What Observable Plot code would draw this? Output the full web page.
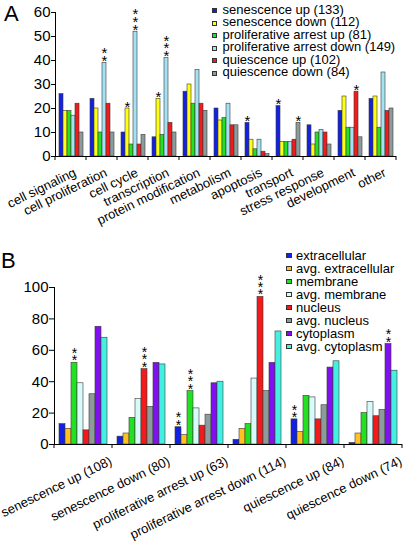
<!DOCTYPE html>
<html>
<head>
<meta charset="utf-8">
<script src="https://cdn.jsdelivr.net/npm/d3@7"></script>
<script src="https://cdn.jsdelivr.net/npm/@observablehq/plot@0.6"></script>
<style>
  html, body { margin: 0; padding: 0; background: #fff; }
  #root { position: relative; width: 406px; height: 548px; overflow: hidden; font-family: "Liberation Sans", Arial, Helvetica, sans-serif; color: #000; }
  .panel { position: absolute; left: 0; }
  .plabel { position: absolute; font-size: 22px; line-height: 1; }
  .leg { position: absolute; font-size: 13px; }
  .row { display: flex; align-items: center; white-space: nowrap; }
  .sw { display: inline-block; box-sizing: border-box; border: 0.6px solid #333; }
</style>
</head>
<body>
<div id="root"></div>
<script>
// ---------- Panel A data ----------
const categoriesA = ["cell signaling", "cell proliferation", "cell cycle", "transcription", "protein modification", "metabolism", "apoptosis", "transport", "stress response", "development", "other"];
const seriesA = ["senescence up (133)", "senescence down (112)", "proliferative arrest up (81)", "proliferative arrest down (149)", "quiescence up (102)", "quiescence down (84)"];
const senescenceUpA        = [26, 24, 10,  8, 27, 20, 14, 21, 13, 19, 24];
const senescenceDownA      = [19, 20, 20, 24, 30, 15,  7,  6,  5, 25, 25];
const prolifArrestUpA      = [19, 10,  5,  9, 22, 16,  3,  6, 10, 12, 12];
const prolifArrestDownA    = [17, 39, 52, 41, 36, 22,  7,  6, 11, 12, 35];
const quiescenceUpA        = [22, 22,  5, 14, 22, 13,  2,  7, 10, 27, 19];
const quiescenceDownA      = [10, 10,  9, 10, 19, 13,  1, 14,  5,  8, 20];
const yTicksA = [0, 10, 20, 30, 40, 50, 60];
// significance marks: [category, series index, stars]
const starsA = [
  ["cell proliferation", 3, "**"],
  ["cell cycle", 1, "*"],
  ["cell cycle", 3, "***"],
  ["transcription", 1, "*"],
  ["transcription", 3, "***"],
  ["apoptosis", 0, "*"],
  ["transport", 0, "*"],
  ["transport", 5, "*"],
  ["development", 4, "*"]
];
const colorsA = ["#1222e2", "#ffff14", "#22e022", "#a2e2f2", "#f21a1a", "#8c9c9c"];

// ---------- Panel B data ----------
const categoriesB = ["senescence up (108)", "senescence down (80)", "proliferative arrest up (63)", "proliferative arrest down (114)", "quiescence up (84)", "quiescence down (74)"];
const seriesB = ["extracellular", "avg. extracellular", "membrane", "avg. membrane", "nucleus", "avg. nucleus", "cytoplasm", "avg. cytoplasm"];
const extracellularB     = [13,  5, 11,  3, 16,  1];
const avgExtracellularB  = [10,  7,  6, 10,  8,  7];
const membraneB          = [52, 17, 34, 13, 31, 20];
const avgMembraneB       = [39, 29, 23, 42, 30, 27];
const nucleusB           = [ 9, 48, 12, 94, 16, 18];
const avgNucleusB        = [32, 24, 19, 34, 25, 22];
const cytoplasmB         = [75, 52, 39, 52, 49, 64];
const avgCytoplasmB      = [68, 51, 40, 72, 53, 47];
const yTicksB = [0, 20, 40, 60, 80, 100];
const starsB = [
  ["senescence up (108)", 2, "**"],
  ["senescence down (80)", 4, "***"],
  ["proliferative arrest up (63)", 0, "**"],
  ["proliferative arrest up (63)", 2, "***"],
  ["proliferative arrest down (114)", 4, "***"],
  ["quiescence up (84)", 0, "**"],
  ["quiescence down (74)", 6, "**"]
];
const colorsB = ["#1222e2", "#ffc21e", "#22e022", "#d8fafa", "#f21a1a", "#8c9c9c", "#8010f2", "#44f0e2"];

// ---------- build tables ----------
const valuesA = [senescenceUpA, senescenceDownA, prolifArrestUpA, prolifArrestDownA, quiescenceUpA, quiescenceDownA];
const valuesB = [extracellularB, avgExtracellularB, membraneB, avgMembraneB, nucleusB, avgNucleusB, cytoplasmB, avgCytoplasmB];
function table(cats, series, values) {
  const out = [];
  cats.forEach((c, i) => series.forEach((s, j) => out.push({cat: c, series: s, value: values[j][i]})));
  return out;
}
function starTable(stars, cats, series, values) {
  return stars.map(([c, j, t]) => ({cat: c, series: series[j], value: values[j][cats.indexOf(c)], text: t.split("").join("\n")}));
}
const dataA = table(categoriesA, seriesA, valuesA);
const dataB = table(categoriesB, seriesB, valuesB);
const sA = starTable(starsA, categoriesA, seriesA, valuesA);
const sB = starTable(starsB, categoriesB, seriesB, valuesB);

const FONT = "Liberation Sans, Arial, Helvetica, sans-serif";

function makePanel(cfg) {
  const svg = Plot.plot({
    width: 406,
    height: cfg.height,
    marginLeft: 52,
    marginRight: cfg.marginRight,
    marginTop: cfg.marginTop,
    marginBottom: cfg.marginBottom,
    style: {fontFamily: FONT, fontSize: "15px", background: "transparent", overflow: "visible"},
    fx: {domain: cfg.cats, padding: 0, axis: null, label: null},
    x: {domain: cfg.series, paddingInner: 0, paddingOuter: cfg.outer, axis: null},
    y: {domain: cfg.ydomain, ticks: cfg.yticks, tickSize: cfg.tickSize, tickPadding: 1, line: true, label: null, tickFormat: d => String(d)},
    color: {domain: cfg.series, range: cfg.colors},
    marks: [
      Plot.barY(cfg.data, {fx: "cat", x: "series", y: "value", fill: "series", stroke: "#3a3a3a", strokeWidth: 0.6}),
      Plot.ruleY([0], {stroke: "#000", strokeWidth: 1}),
      Plot.text(cfg.stars, {fx: "cat", x: "series", y: "value", text: "text", fontSize: cfg.starSize, lineHeight: cfg.starLH, lineAnchor: "bottom", dy: cfg.starDy}),
      Plot.text(cfg.cats, {fx: d => d, text: d => d, frameAnchor: "bottom", textAnchor: "end", lineAnchor: "bottom", rotate: -26, fontSize: 13, dx: cfg.labDx, dy: cfg.labDy})
    ]
  });
  // boundary ticks along x axis derived from the fx band scale
  const fx = svg.scale("fx"), y = svg.scale("y");
  const y0 = y.apply(0);
  const xs = cfg.cats.map(c => fx.apply(c));
  xs.push(fx.apply(cfg.cats[cfg.cats.length - 1]) + fx.bandwidth);
  d3.select(svg).append("g").attr("stroke", "#000").selectAll("line").data(xs).join("line")
    .attr("x1", d => d).attr("x2", d => d).attr("y1", y0).attr("y2", y0 + 4);
  return svg;
}

const root = document.getElementById("root");

const svgA = makePanel({
  cats: categoriesA, series: seriesA, colors: colorsA, data: dataA, stars: sA,
  height: 250, marginTop: 12, marginBottom: 94, marginRight: 8, outer: 0.7,
  ydomain: [0, 60], yticks: yTicksA, tickSize: 4,
  starSize: 15, starLH: 0.52, starDy: 3, labDx: 6, labDy: 19
});
const svgB = makePanel({
  cats: categoriesB, series: seriesB, colors: colorsB, data: dataB, stars: sB,
  height: 298, marginTop: 37, marginBottom: 104, marginRight: 3, outer: 0.64,
  ydomain: [0, 100], yticks: yTicksB, tickSize: 5,
  starSize: 14, starLH: 0.52, starDy: 2.5, labDx: 29.5, labDy: 19.5
});

const wrapA = document.createElement("div"); wrapA.className = "panel"; wrapA.style.top = "0px"; wrapA.appendChild(svgA); root.appendChild(wrapA);
const wrapB = document.createElement("div"); wrapB.className = "panel"; wrapB.style.top = "250px"; wrapB.appendChild(svgB); root.appendChild(wrapB);

function panelLabel(t, left, top) {
  const d = document.createElement("div"); d.className = "plabel"; d.textContent = t;
  d.style.left = left + "px"; d.style.top = top + "px"; root.appendChild(d);
}
panelLabel("A", 4, 3);
panelLabel("B", 1, 250);

function legend(series, colors, left, top, rowH, sw, gap) {
  const d = document.createElement("div"); d.className = "leg";
  d.style.left = left + "px"; d.style.top = top + "px";
  series.forEach((s, i) => {
    const r = document.createElement("div"); r.className = "row"; r.style.height = rowH + "px"; r.style.lineHeight = rowH + "px";
    const q = document.createElement("span"); q.className = "sw";
    q.style.width = sw[0] + "px"; q.style.height = sw[1] + "px"; q.style.marginRight = gap + "px"; q.style.marginTop = "1px";
    q.style.background = colors[i];
    const t = document.createElement("span"); t.textContent = s;
    r.appendChild(q); r.appendChild(t); d.appendChild(r);
  });
  root.appendChild(d);
}
legend(seriesA, colorsA, 212, 3.75, 12.5, [5, 5], 5.5);
legend(seriesB, colorsB, 286, 248.5, 13.05, [6, 5], 4);
</script>
</body>
</html>
